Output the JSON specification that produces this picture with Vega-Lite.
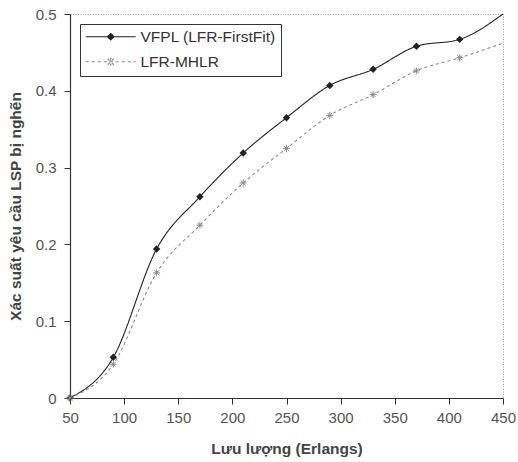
{
  "$schema": "https://vega.github.io/schema/vega-lite/v6.json",
  "autosize": {"type": "none"},
  "width": 433,
  "height": 384,
  "padding": {"left": 70, "top": 14, "right": 15, "bottom": 64},
  "background": "white",
  "config": {
    "font": "Liberation Sans",
    "view": {"stroke": "#9a9a9a", "strokeDash": [1, 1.5], "strokeWidth": 1},
    "axis": {
      "grid": false,
      "domainColor": "#333",
      "domainWidth": 1.2,
      "tickColor": "#333",
      "tickSize": 6,
      "labelColor": "#555",
      "labelFontSize": 15,
      "labelFont": "Liberation Sans",
      "labelFlush": false,
      "titleFont": "Liberation Sans",
      "titleFontSize": 15.5,
      "titleFontWeight": "bold",
      "titleColor": "#444"
    }
  },
  "data": {
    "values": [
      {"x": 50, "y": 0, "series": "VFPL (LFR-FirstFit)"},
      {"x": 90, "y": 0.053, "series": "VFPL (LFR-FirstFit)"},
      {"x": 130, "y": 0.194, "series": "VFPL (LFR-FirstFit)"},
      {"x": 170, "y": 0.262, "series": "VFPL (LFR-FirstFit)"},
      {"x": 210, "y": 0.319, "series": "VFPL (LFR-FirstFit)"},
      {"x": 250, "y": 0.365, "series": "VFPL (LFR-FirstFit)"},
      {"x": 290, "y": 0.407, "series": "VFPL (LFR-FirstFit)"},
      {"x": 330, "y": 0.428, "series": "VFPL (LFR-FirstFit)"},
      {"x": 370, "y": 0.458, "series": "VFPL (LFR-FirstFit)"},
      {"x": 410, "y": 0.467, "series": "VFPL (LFR-FirstFit)"},
      {"x": 450, "y": 0.5, "series": "VFPL (LFR-FirstFit)"},
      {"x": 50, "y": 0, "series": "LFR-MHLR"},
      {"x": 90, "y": 0.044, "series": "LFR-MHLR"},
      {"x": 130, "y": 0.163, "series": "LFR-MHLR"},
      {"x": 170, "y": 0.225, "series": "LFR-MHLR"},
      {"x": 210, "y": 0.28, "series": "LFR-MHLR"},
      {"x": 250, "y": 0.325, "series": "LFR-MHLR"},
      {"x": 290, "y": 0.368, "series": "LFR-MHLR"},
      {"x": 330, "y": 0.395, "series": "LFR-MHLR"},
      {"x": 370, "y": 0.426, "series": "LFR-MHLR"},
      {"x": 410, "y": 0.443, "series": "LFR-MHLR"},
      {"x": 450, "y": 0.462, "series": "LFR-MHLR"}
    ]
  },
  "encoding": {
    "x": {
      "field": "x", "type": "quantitative",
      "scale": {"domain": [50, 450], "nice": false, "zero": false},
      "axis": {"values": [50, 100, 150, 200, 250, 300, 350, 400, 450], "title": "Lưu lượng (Erlangs)", "labelPadding": 6, "titlePadding": 16}
    },
    "y": {
      "field": "y", "type": "quantitative",
      "scale": {"domain": [0, 0.5], "nice": false},
      "axis": {"values": [0, 0.1, 0.2, 0.3, 0.4, 0.5], "format": ".1~f", "title": "Xác suất yêu cầu LSP bị nghẽn", "labelPadding": 8, "titlePadding": 12}
    }
  },
  "layer": [
    {
      "mark": {"type": "line", "interpolate": "monotone", "strokeWidth": 1.1},
      "encoding": {
        "color": {
          "field": "series", "type": "nominal",
          "scale": {"domain": ["VFPL (LFR-FirstFit)", "LFR-MHLR"], "range": ["#222222", "#8a8a8a"]},
          "legend": {
            "title": null,
            "orient": "top-left",
            "offset": 10,
            "strokeColor": "#333",
            "fillColor": "white",
            "padding": 5,
            "labelFontSize": 15.5,
            "labelColor": "#333",
            "labelFont": "Liberation Sans",
            "symbolSize": 100,
            "symbolOffset": 18,
            "labelOffset": 22,
            "rowPadding": 8,
            "encode": {
              "symbols": {
                "update": {
                  "shape": {"signal": "datum.value == 'LFR-MHLR' ? 'M-5,0L5,0M-0.6,-0.6L0.6,0.6M-0.6,0.6L0.6,-0.6M0,-0.8L0,0.8' : 'M-5,0L5,0M0,-0.65L0.65,0L0,0.65L-0.65,0Z'"},
                  "fill": {"signal": "datum.value == 'LFR-MHLR' ? 'transparent' : '#222'"},
                  "stroke": {"signal": "datum.value == 'LFR-MHLR' ? '#8a8a8a' : '#222'"},
                  "strokeDash": {"signal": "datum.value == 'LFR-MHLR' ? [2, 2] : [1, 0]"},
                  "strokeWidth": {"value": 1.1}
                }
              }
            }
          }
        },
        "strokeDash": {
          "field": "series", "type": "nominal",
          "scale": {"domain": ["VFPL (LFR-FirstFit)", "LFR-MHLR"], "range": [[1, 0], [3, 3]]},
          "legend": null
        }
      }
    },
    {
      "transform": [{"filter": "datum.x < 450 && datum.series == 'VFPL (LFR-FirstFit)'"}],
      "mark": {"type": "point", "shape": "diamond", "filled": true, "size": 55, "color": "#222222", "opacity": 1}
    },
    {
      "transform": [{"filter": "datum.x < 450 && datum.series == 'LFR-MHLR'"}],
      "mark": {"type": "point", "shape": "M-1,0L1,0M-0.7,-0.7L0.7,0.7M-0.7,0.7L0.7,-0.7M0,-1L0,1", "filled": false, "size": 50, "color": "#8a8a8a", "strokeWidth": 1, "opacity": 1}
    }
  ]
}
